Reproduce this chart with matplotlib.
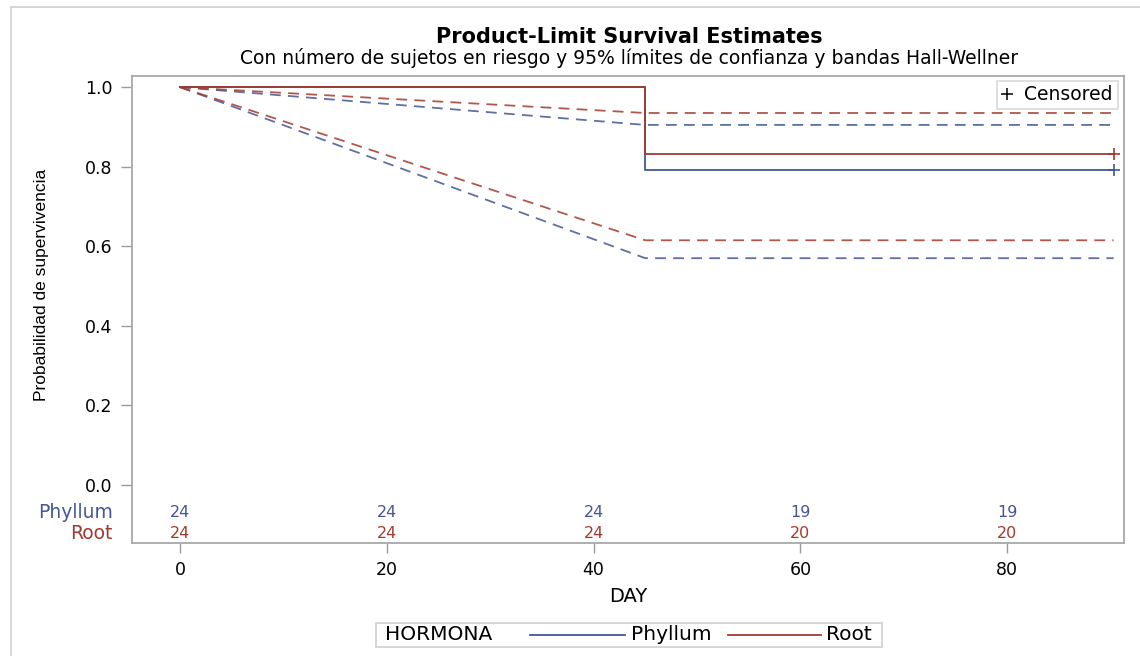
import matplotlib
matplotlib.use("Agg")
import matplotlib.pyplot as plt
from matplotlib.lines import Line2D
from matplotlib.patches import Rectangle

plt.rcParams['font.family'] = ['DejaVu Sans']

# ---- data ----
groups = ["Phyllum", "Root"]
colors = {"Phyllum": "#445694", "Root": "#A23A2E"}
km_times = [0, 45, 90.3]
km_surv = {"Phyllum": [1.0, 0.792, 0.792], "Root": [1.0, 0.833, 0.833]}
band_times = [0, 45, 90.3]
band_upper = {"Phyllum": [1.0, 0.905, 0.905], "Root": [1.0, 0.935, 0.935]}
band_lower = {"Phyllum": [1.0, 0.570, 0.570], "Root": [1.0, 0.615, 0.615]}
censor_time = 90.3
risk_days = [0, 20, 40, 60, 80]
at_risk = {"Phyllum": [24, 24, 24, 19, 19], "Root": [24, 24, 24, 20, 20]}
x_ticks = [0, 20, 40, 60, 80]
y_ticks = [0.0, 0.2, 0.4, 0.6, 0.8, 1.0]

W, H = 1140, 656
fig = plt.figure(figsize=(W / 100, H / 100), dpi=100)

def fx(px):
    return px / W

def fy(py):
    return 1 - py / H

# outer border
fig.add_artist(Line2D([fx(11), fx(11)], [fy(7), 0], color="#CFCFCF", lw=1.2))
fig.add_artist(Line2D([fx(11), 1], [fy(7), fy(7)], color="#CFCFCF", lw=1.2))

left, right, top, bottom = 132, 1124, 76, 543
ax = fig.add_axes([fx(left), fy(bottom), fx(right - left), (bottom - top) / H])
ax.set_xlim(-4.64, 91.3)
ax.set_ylim(-0.146, 1.028)

dash = (0, (6, 4))
for g in groups:
    c = colors[g]
    ax.plot(band_times, band_upper[g], color=c, lw=1.3, ls=dash, alpha=0.85)
    ax.plot(band_times, band_lower[g], color=c, lw=1.3, ls=dash, alpha=0.85)
for g in groups:
    c = colors[g]
    ax.plot(km_times, km_surv[g], color=c, lw=1.3, drawstyle="steps-post")
    ax.plot([censor_time], [km_surv[g][-1]], marker="+", ms=9, mew=1.2, color=c, ls="")

# at-risk table
row_y = {"Phyllum": -0.070, "Root": -0.123}
for g in groups:
    for d, n in zip(risk_days, at_risk[g]):
        ax.text(d, row_y[g], str(n), color=colors[g], ha="center", va="center", fontsize=11.5)
    ax.text(-0.0195, row_y[g], g, color=colors[g], ha="right", va="center",
            fontsize=13.5, transform=ax.get_yaxis_transform())

ax.set_xticks(x_ticks)
ax.set_xticklabels([str(v) for v in x_ticks])
ax.set_yticks(y_ticks)
ax.set_yticklabels([f"{v:.1f}" for v in y_ticks])
ax.tick_params(axis="both", direction="out", length=8, width=1, color="#9A9A9A",
               labelsize=12.5, labelcolor="black", pad=6)
ax.tick_params(axis="x", length=7, pad=6)
for s in ax.spines.values():
    s.set_color("#A8A8A8")
    s.set_linewidth(1.3)

ax.set_xlabel("DAY", fontsize=14, labelpad=6)
fig.text(fx(42), fy(285), "Probabilidad de supervivencia", rotation=90, ha="center",
         va="center", fontsize=12.5, family=["Liberation Sans", "DejaVu Sans"])

# censored legend
leg = ax.legend(handles=[Line2D([], [], marker="+", ls="", color="black", ms=8, mew=1.1)],
                labels=["Censored"], loc="upper right", bbox_to_anchor=(0.9935, 0.99),
                frameon=True, fancybox=False, fontsize=13.5, handlelength=0.6,
                handletextpad=0.6, borderpad=0.25, borderaxespad=0)
leg.get_frame().set_edgecolor("#D0D0D0")
leg.get_frame().set_linewidth(1.2)

# titles
fig.text(fx(629), fy(37), "Product-Limit Survival Estimates", ha="center", va="center",
         fontsize=15, fontweight="bold")
fig.text(fx(629), fy(58), "Con número de sujetos en riesgo y 95% límites de confianza y bandas Hall-Wellner",
         ha="center", va="center", fontsize=13.5)

# bottom group legend
fig.add_artist(Rectangle((fx(376), fy(647)), fx(882 - 376), (647 - 623) / H, fill=False,
                         edgecolor="#D0D0D0", lw=1.2))
ly = fy(635)
fig.text(fx(385), ly, "HORMONA", ha="left", va="center", fontsize=14.5)
fig.add_artist(Line2D([fx(530), fx(625)], [ly, ly], color=colors["Phyllum"], lw=1.3))
fig.text(fx(631), ly, "Phyllum", ha="left", va="center", fontsize=14.5)
fig.add_artist(Line2D([fx(728), fx(821)], [ly, ly], color=colors["Root"], lw=1.3))
fig.text(fx(826), ly, "Root", ha="left", va="center", fontsize=14.5)

fig.savefig("out.png", dpi=100, facecolor="white")
